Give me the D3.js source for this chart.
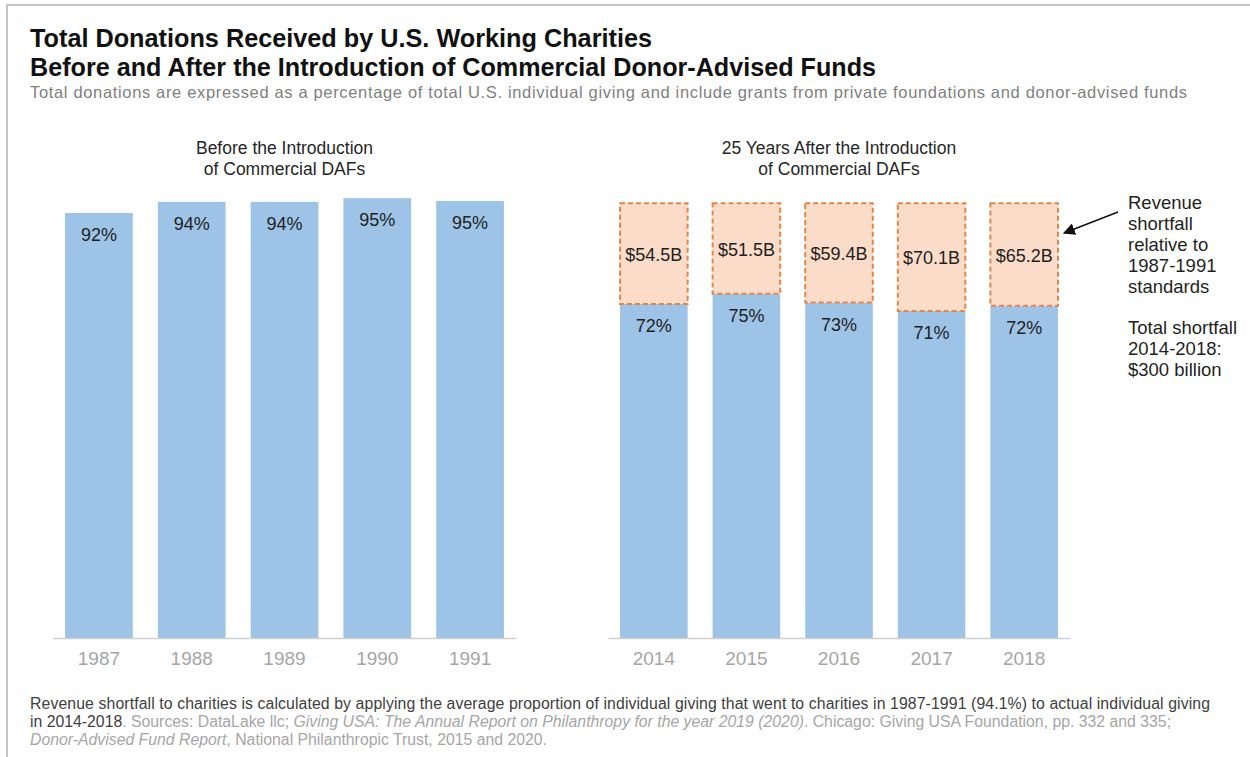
<!DOCTYPE html>
<html>
<head>
<meta charset="utf-8">
<script src="https://cdn.jsdelivr.net/npm/d3@7"></script>
<style>
  body { margin: 0; background: #fff; }
  svg { display: block; font-family: "Liberation Sans", Arial, sans-serif; }
</style>
</head>
<body>
<div id="chart"></div>
<script>
// data
const beforeYears = ["1987", "1988", "1989", "1990", "1991"];
const beforeShare = [92.0, 94.4, 94.4, 95.2, 94.6];
const beforeLabels = ["92%", "94%", "94%", "95%", "95%"];

const afterYears = ["2014", "2015", "2016", "2017", "2018"];
const afterShare = [72.3, 74.5, 72.6, 70.8, 71.9];
const afterLabels = ["72%", "75%", "73%", "71%", "72%"];

const standardShare = 94.1; // 1987-1991 average
const shortfallLabels = ["$54.5B", "$51.5B", "$59.4B", "$70.1B", "$65.2B"];

const titleLines = [
    "Total Donations Received by U.S. Working Charities",
    "Before and After the Introduction of Commercial  Donor-Advised Funds"
];
const subtitle = "Total donations are expressed as a percentage of total U.S. individual giving and include grants from private foundations and donor-advised funds";
const panelTitles = [
    ["Before the Introduction", "of Commercial DAFs"],
    ["25 Years After the Introduction", "of Commercial DAFs"]
];
const noteLines = ["Revenue", "shortfall", "relative to", "1987-1991", "standards"];
const totalLines = ["Total shortfall", "2014-2018:", "$300 billion"];

const width = 1250, height = 757;
const blue = "#9dc3e6", peach = "#fbdcc8", orange = "#e5854a";

let svg = d3.select("#chart").append("svg")
    .attr("width", width)
    .attr("height", height);

// outer frame
svg.append("rect")
    .attr("x", 7).attr("y", 5)
    .attr("width", width).attr("height", height)
    .attr("fill", "none")
    .attr("stroke", "#c4c4c4")
    .attr("stroke-width", 2);

// titles
svg.append("g").selectAll("text")
    .data(titleLines)
    .enter().append("text")
    .attr("x", 30)
    .attr("y", (d, i) => 47 + i * 29)
    .attr("font-size", 25)
    .attr("font-weight", "bold")
    .attr("fill", "#111")
    .attr("textLength", (d, i) => i == 0 ? 622 : 846)
    .attr("lengthAdjust", "spacingAndGlyphs")
    .text(d => d);

svg.append("text")
    .attr("x", 30).attr("y", 98)
    .attr("font-size", 16.5)
    .attr("fill", "#7f7f7f")
    .attr("textLength", 1157)
    .attr("lengthAdjust", "spacing")
    .text(subtitle);

let y = d3.scaleLinear().domain([0, 100]).range([638, 176]);

function drawPanel(range, years, shares, labels, title) {
    let x = d3.scaleBand()
        .domain(years)
        .range(range)
        .paddingInner(0.27)
        .paddingOuter(0.13);

    let g = svg.append("g");

    g.selectAll(".title")
        .data(title)
        .enter().append("text")
        .attr("x", (range[0] + range[1]) / 2)
        .attr("y", (d, i) => 154 + i * 21)
        .attr("text-anchor", "middle")
        .attr("font-size", 17.5)
        .attr("fill", "#262626")
        .text(d => d);

    g.selectAll(".bar")
        .data(years)
        .enter().append("rect")
        .attr("x", d => x(d))
        .attr("y", (d, i) => y(shares[i]))
        .attr("width", x.bandwidth())
        .attr("height", (d, i) => y(0) - y(shares[i]))
        .attr("fill", blue);

    g.selectAll(".pct")
        .data(years)
        .enter().append("text")
        .attr("x", d => x(d) + x.bandwidth() / 2)
        .attr("y", (d, i) => y(shares[i]) + 28)
        .attr("text-anchor", "middle")
        .attr("font-size", 18)
        .attr("fill", "#1f1f1f")
        .text((d, i) => labels[i]);

    let axis = g.append("g")
        .attr("transform", "translate(0," + y(0) + ")")
        .call(d3.axisBottom(x).tickSize(0).tickSizeOuter(0).tickPadding(14));
    axis.select(".domain").attr("stroke", "#d0d0d0").attr("stroke-width", 1.5);
    axis.selectAll("text")
        .attr("font-family", "Liberation Sans, Arial, sans-serif")
        .attr("font-size", 19)
        .attr("fill", "#a6a6a6");

    return x;
}

drawPanel([53, 516], beforeYears, beforeShare, beforeLabels, panelTitles[0]);
let xr = drawPanel([608, 1070], afterYears, afterShare, afterLabels, panelTitles[1]);

// shortfall segments up to the 1987-1991 standard
let gap = svg.append("g");
gap.selectAll("rect")
    .data(afterYears)
    .enter().append("rect")
    .attr("x", d => xr(d))
    .attr("y", y(standardShare))
    .attr("width", xr.bandwidth())
    .attr("height", (d, i) => y(afterShare[i]) - y(standardShare))
    .attr("fill", peach)
    .attr("stroke", orange)
    .attr("stroke-width", 2)
    .attr("stroke-dasharray", "5,3");

gap.selectAll("text")
    .data(afterYears)
    .enter().append("text")
    .attr("x", d => xr(d) + xr.bandwidth() / 2)
    .attr("y", (d, i) => (y(afterShare[i]) + y(standardShare)) / 2 + 7)
    .attr("text-anchor", "middle")
    .attr("font-size", 18)
    .attr("fill", "#1f1f1f")
    .text((d, i) => shortfallLabels[i]);

// annotation
svg.append("defs").append("marker")
    .attr("id", "arrow")
    .attr("viewBox", "0 0 10 10")
    .attr("refX", 9).attr("refY", 5)
    .attr("markerWidth", 8).attr("markerHeight", 8)
    .attr("orient", "auto")
    .append("path")
    .attr("d", "M0,0 L10,5 L0,10 z")
    .attr("fill", "#111");

svg.append("line")
    .attr("x1", 1118).attr("y1", 212)
    .attr("x2", 1064).attr("y2", 233)
    .attr("stroke", "#111")
    .attr("stroke-width", 1.5)
    .attr("marker-end", "url(#arrow)");

svg.append("g").selectAll("text")
    .data(noteLines)
    .enter().append("text")
    .attr("x", 1128)
    .attr("y", (d, i) => 209 + i * 21)
    .attr("font-size", 18.5)
    .attr("fill", "#1f1f1f")
    .text(d => d);

svg.append("g").selectAll("text")
    .data(totalLines)
    .enter().append("text")
    .attr("x", 1128)
    .attr("y", (d, i) => 334 + i * 21)
    .attr("font-size", 18.5)
    .attr("fill", "#1f1f1f")
    .text(d => d);

// footnote
let foot = svg.append("g").attr("font-size", 15.8);
foot.append("text").attr("x", 30).attr("y", 709).attr("fill", "#404040")
    .attr("textLength", 1180)
    .attr("lengthAdjust", "spacing")
    .text("Revenue shortfall to charities is calculated by applying the average proportion of individual giving that went to charities in 1987-1991 (94.1%) to actual individual giving");

let l2 = foot.append("text").attr("x", 30).attr("y", 727).attr("fill", "#a6a6a6");
l2.append("tspan").attr("fill", "#404040").text("in 2014-2018");
l2.append("tspan").text(". Sources: DataLake llc; ");
l2.append("tspan").attr("font-style", "italic").text("Giving USA: The Annual Report on Philanthropy for the year 2019 (2020)");
l2.append("tspan").text(". Chicago: Giving USA Foundation, pp. 332 and 335;");

let l3 = foot.append("text").attr("x", 30).attr("y", 745).attr("fill", "#a6a6a6");
l3.append("tspan").attr("font-style", "italic").text("Donor-Advised Fund Report");
l3.append("tspan").text(", National Philanthropic Trust, 2015 and 2020.");
</script>
</body>
</html>
